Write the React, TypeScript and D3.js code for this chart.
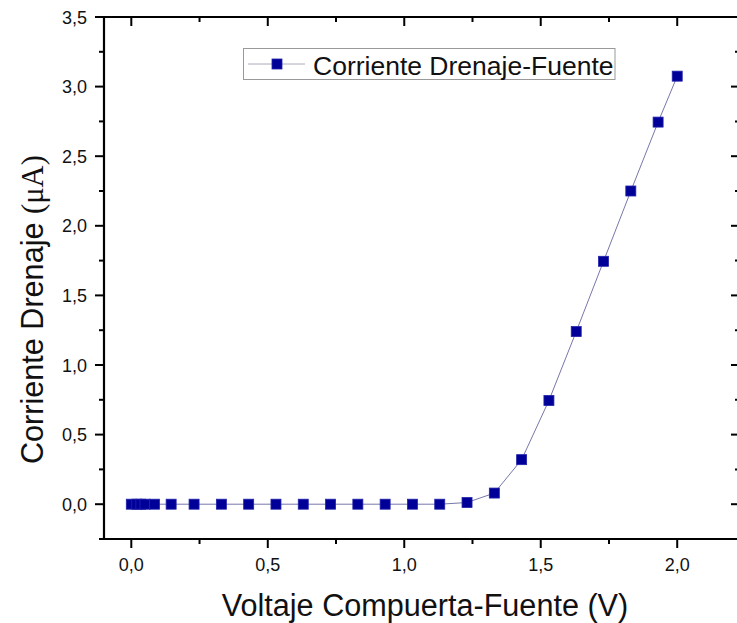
import React from "react";
import * as d3 from "d3";

const voltage = [0, 0.02, 0.035, 0.05, 0.085, 0.146, 0.23, 0.33, 0.43, 0.53, 0.63, 0.73, 0.83, 0.93, 1.03, 1.13, 1.23, 1.33, 1.43, 1.53, 1.63, 1.73, 1.83, 1.93, 2.0];
const current = [0, 0, 0, 0, 0, 0, 0, 0, 0, 0, 0, 0, 0, 0, 0, 0, 0.012, 0.08, 0.32, 0.745, 1.24, 1.745, 2.25, 2.745, 3.075];
const xMajorTicks = [0, 0.5, 1.0, 1.5, 2.0];
const xMinorTicks = [0.25, 0.75, 1.25, 1.75];
const yMajorTicks = [0, 0.5, 1.0, 1.5, 2.0, 2.5, 3.0, 3.5];
const yMinorTicks = [-0.25, 0.25, 0.75, 1.25, 1.75, 2.25, 2.75, 3.25];
const seriesName = "Corriente Drenaje-Fuente";
const xTitle = "Voltaje Compuerta-Fuente (V)";
const yTitle = "Corriente Drenaje ";

const fmt = (v: number) => v.toFixed(1).replace(".", ",");

export default function App() {
  const W = 737, H = 623;
  const x = d3.scaleLinear().domain([-0.1, 2.23]).range([104, 740]);
  const y = d3.scaleLinear().domain([-0.25, 3.5]).range([539, 17]);
  const left = x(-0.1), right = x(2.23), top = y(3.5), bottom = y(-0.25);
  const line = d3.line<number>().x((_, i) => x(voltage[i])).y((d) => y(d));
  const font = "'Liberation Sans', Arial, sans-serif";
  const sq = 10;
  return (
    <svg width={W} height={H} style={{ position: "absolute", left: 0, top: 0, background: "#fff" }}>
      <rect x={0} y={0} width={W} height={H} fill="#fff" />
      {/* frame */}
      <g stroke="#000" strokeWidth={2.2} fill="none">
        <line x1={left - 1} y1={top} x2={right} y2={top} />
        <line x1={left - 1} y1={bottom} x2={right} y2={bottom} />
        <line x1={left} y1={top - 1} x2={left} y2={bottom + 1} />
        <line x1={right} y1={top} x2={right} y2={bottom} />
      </g>
      {/* ticks */}
      <g stroke="#000" strokeWidth={2}>
        {xMajorTicks.map((t) => (
          <g key={"xm" + t}>
            <line x1={x(t)} x2={x(t)} y1={bottom} y2={bottom + 9} />
            <line x1={x(t)} x2={x(t)} y1={top} y2={top + 9} />
          </g>
        ))}
        {xMinorTicks.map((t) => (
          <g key={"xn" + t}>
            <line x1={x(t)} x2={x(t)} y1={bottom} y2={bottom + 5} />
            <line x1={x(t)} x2={x(t)} y1={top} y2={top + 5} />
          </g>
        ))}
        {yMajorTicks.map((t) => (
          <g key={"ym" + t}>
            <line x1={left} x2={left - 9} y1={y(t)} y2={y(t)} />
            <line x1={right} x2={right - 9} y1={y(t)} y2={y(t)} />
          </g>
        ))}
        {yMinorTicks.map((t) => (
          <g key={"yn" + t}>
            <line x1={left} x2={left - 5} y1={y(t)} y2={y(t)} />
            <line x1={right} x2={right - 5} y1={y(t)} y2={y(t)} />
          </g>
        ))}
      </g>
      {/* tick labels */}
      <g fontFamily={font} fontSize={18} fill="#111">
        {xMajorTicks.map((t) => (
          <text key={"xl" + t} x={x(t)} y={571} textAnchor="middle">{fmt(t)}</text>
        ))}
        {yMajorTicks.map((t) => (
          <text key={"yl" + t} x={87} y={y(t) + 6.5} textAnchor="end">{fmt(t)}</text>
        ))}
      </g>
      {/* axis titles */}
      <text x={425} y={616} textAnchor="middle" fontFamily={font} fontSize={30.6} fill="#111">{xTitle}</text>
      <text transform="translate(43,464) rotate(-90)" textAnchor="start" fontFamily={font} fontSize={30.6} fill="#111">
        {yTitle}
        <tspan fontFamily="'Liberation Serif', 'Times New Roman', serif">(μA)</tspan>
      </text>
      {/* series */}
      <path d={line(current) || ""} fill="none" stroke="#7777aa" strokeWidth={1} />
      {current.map((v, i) => (
        <rect key={"p" + i} x={x(voltage[i]) - sq / 2} y={y(v) - sq / 2} width={sq} height={sq} fill="#000099" stroke="#2222aa" strokeWidth={0.8} />
      ))}
      {/* legend */}
      <rect x={243.5} y={48.5} width={371.5} height={31} fill="#fff" stroke="#999" strokeWidth={1} />
      <line x1={248} x2={305} y1={64} y2={64} stroke="#aab" strokeWidth={1} />
      <rect x={277 - 5} y={64 - 5} width={10} height={10} fill="#000099" stroke="#2222aa" strokeWidth={0.8} />
      <text x={313} y={75} fontFamily={font} fontSize={26.5} fill="#111">{seriesName}</text>
    </svg>
  );
}
